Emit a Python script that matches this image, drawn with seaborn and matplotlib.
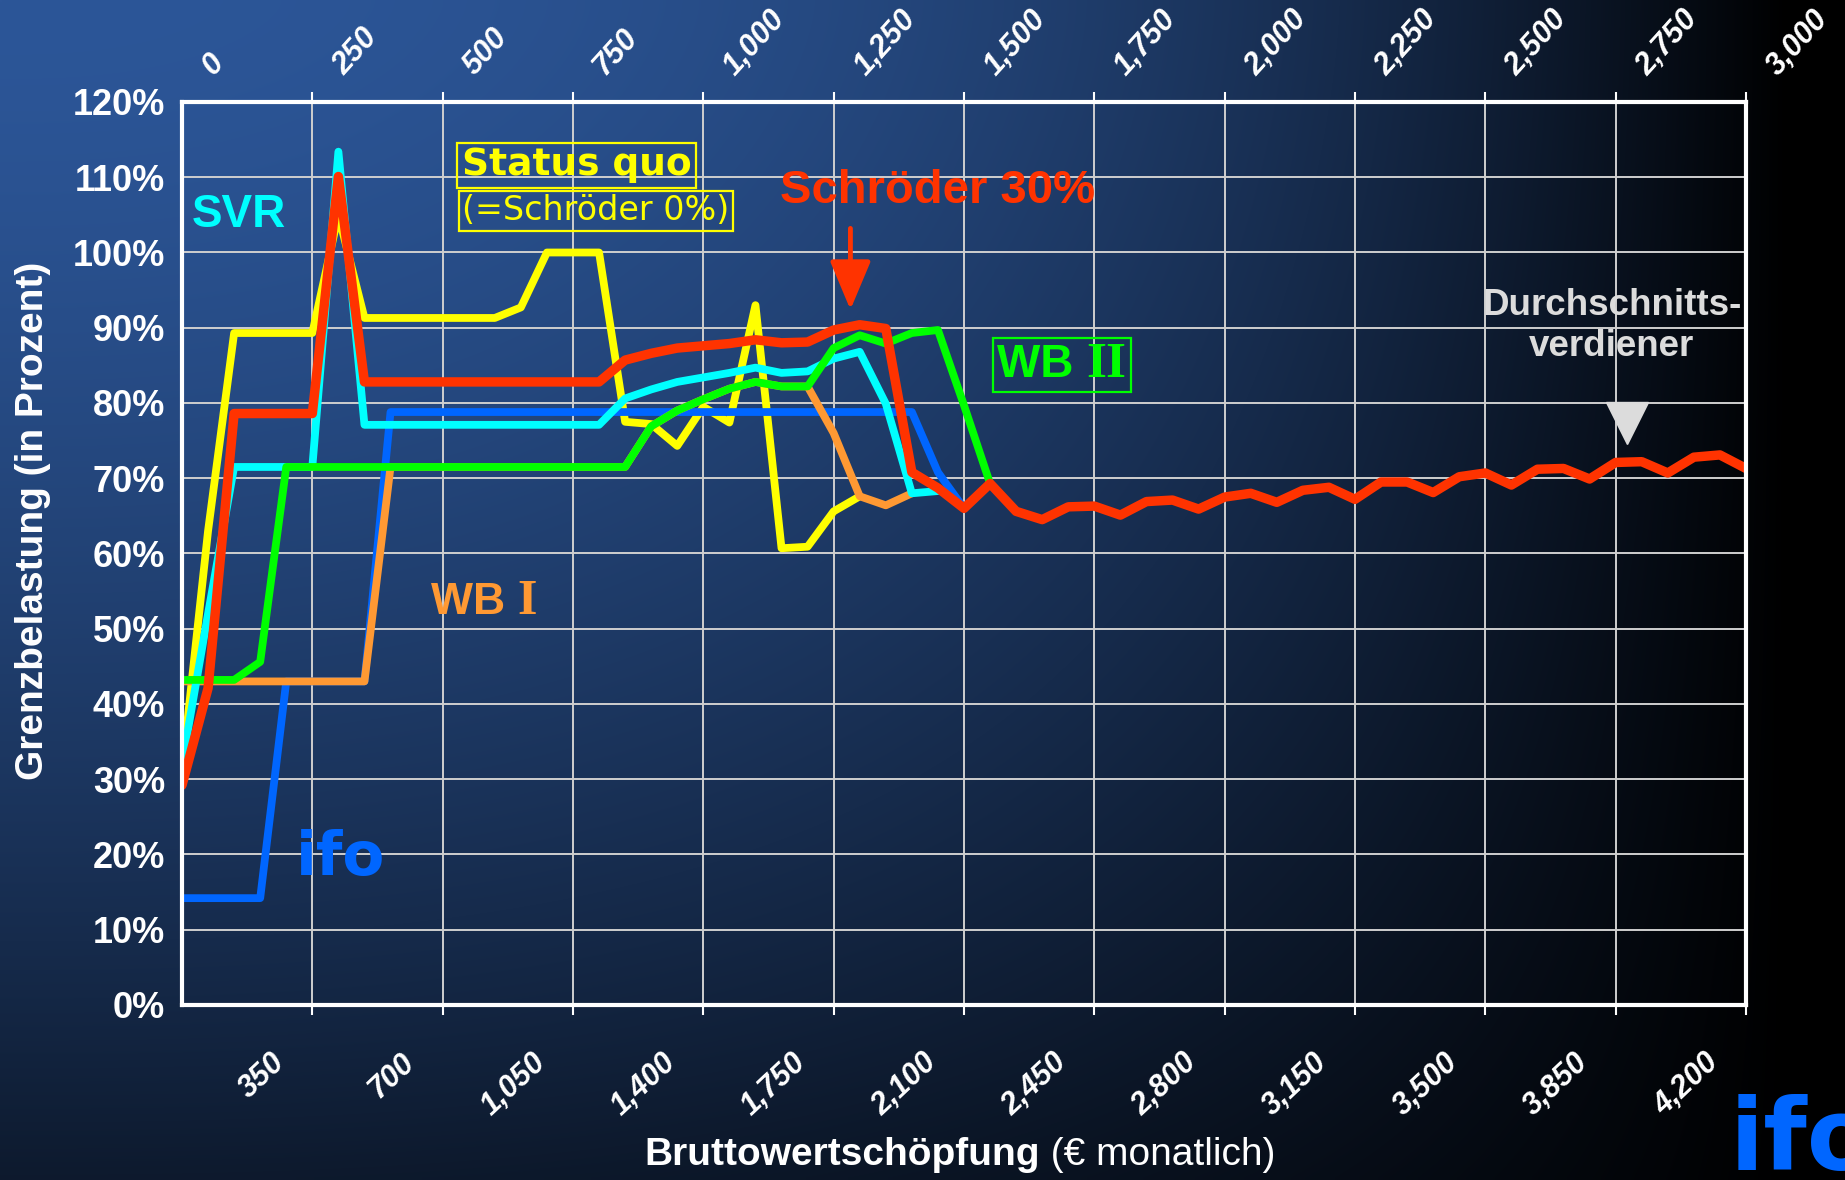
import numpy as np
import pandas as pd
import matplotlib
matplotlib.use("Agg")
import matplotlib.pyplot as plt
import seaborn as sns
from matplotlib.offsetbox import TextArea, HPacker, AnnotationBbox
from matplotlib.transforms import ScaledTranslation, blended_transform_factory

# --- data: Grenzbelastung (%) at gross income steps of 70 EUR ---
step = 70

status_quo = [31, 63, 89.3, 89.3, 89.3, 89.3, 105, 91.3, 91.3, 91.3, 91.3,
              91.3, 91.3, 92.7, 100, 100, 100, 77.5, 77.2, 74.3, 79.5, 77.4,
              93.0, 60.7, 60.9, 65.6, 67.6]

ifo = [14.2, 14.2, 14.2, 14.2, 43, 43, 43, 43, 78.8, 78.8, 78.8, 78.8, 78.8,
       78.8, 78.8, 78.8, 78.8, 78.8, 78.8, 78.8, 78.8, 78.8, 78.8, 78.8,
       78.8, 78.8, 78.8, 78.8, 78.8, 70.8, 66.0]

wb1 = [43, 43, 43, 43, 43, 43, 43, 43, 71.5, 71.5, 71.5, 71.5, 71.5, 71.5,
       71.5, 71.5, 71.5, 71.5, 76.9, 79.0, 80.5, 81.9, 82.8, 82.2, 82.2,
       76.0, 67.6, 66.4, 68.0]

svr = [32, 52, 71.5, 71.5, 71.5, 71.5, 113.4, 77.1, 77.1, 77.1, 77.1, 77.1,
       77.1, 77.1, 77.1, 77.1, 77.1, 80.6, 81.8, 82.8, 83.4, 84.0, 84.7,
       84.0, 84.2, 85.9, 86.8, 79.9, 68.0, 68.3]

# common tail from 2,240 EUR onwards (all schemes coincide)
tail = [65.6, 64.5, 66.2, 66.3, 65.1, 66.9, 67.1, 65.9, 67.5, 68.0, 66.8,
        68.4, 68.8, 67.2, 69.5, 69.5, 68.1, 70.2, 70.7, 69.1, 71.2, 71.3,
        69.9, 72.1, 72.2, 70.7, 72.8, 73.1, 71.3]

wb2 = [43.2, 43.2, 43.2, 45.6, 71.5, 71.5, 71.5, 71.5, 71.5, 71.5, 71.5,
       71.5, 71.5, 71.5, 71.5, 71.5, 71.5, 71.5, 76.9, 79.0, 80.5, 81.9,
       82.8, 82.2, 82.2, 87.3, 89.0, 87.9, 89.3, 89.7, 79.7, 69.3] + tail

schroeder30 = [29.2, 42.1, 78.6, 78.6, 78.6, 78.6, 110.1, 82.8, 82.8, 82.8,
               82.8, 82.8, 82.8, 82.8, 82.8, 82.8, 82.8, 85.7, 86.6, 87.3,
               87.6, 87.9, 88.4, 88.0, 88.1, 89.7, 90.4, 89.9, 70.8, 68.7,
               66.0, 69.3] + tail

series = {"Status quo": status_quo, "ifo": ifo, "WB I": wb1, "SVR": svr,
          "WB II": wb2, "Schröder 30%": schroeder30}
palette = {"Status quo": "#FFFF00", "ifo": "#0066FF", "WB I": "#FF9933",
           "SVR": "#00FFFF", "WB II": "#00FF00", "Schröder 30%": "#FF3300"}

bottom_ticks = np.arange(350, 4201, 350)
top_ticks = np.arange(0, 3001, 250)      # second scale, 250 <-> 350
y_ticks = np.arange(0, 121, 10)
avg_earner_x, avg_earner_y = 3880, 77.4
arrow_x = 1795

rows = []
for name, vals in series.items():
    for i, v in enumerate(vals):
        rows.append({"x": i * step, "value": v, "scheme": name})
df = pd.DataFrame(rows)

# --- style ---
sns.set_style("dark")
plt.rcParams['font.family'] = ['Liberation Sans', 'DejaVu Sans']

fig = plt.figure(figsize=(18.45, 11.8), dpi=100)

# gradient background (blue top-left -> black right/bottom)
H, W = 236, 369
yy, xx = np.mgrid[0:H, 0:W]
xf = xx / (W - 1)
yf = yy / (H - 1)
hx = np.clip(1 - (xf / 0.97) ** 2.4, 0, 1)
vy = 1 - 0.7 * yf ** 1.5
base = np.array([44, 86, 152]) / 255.0
img = base[None, None, :] * (hx * vy)[:, :, None]
bg = fig.add_axes([0, 0, 1, 1], zorder=-1)
bg.imshow(img, extent=[0, 1, 0, 1], aspect="auto", interpolation="bilinear")
bg.axis("off")

ax = fig.add_axes([0.09864, 0.14831, 0.84770, 0.76525])
ax.set_facecolor("none")

sns.lineplot(data=df, x="x", y="value", hue="scheme",
             hue_order=list(series.keys()), palette=palette, linewidth=5.6,
             estimator=None, sort=False, legend=False, ax=ax)
for line in ax.lines:
    line.set_solid_joinstyle("round")
    line.set_solid_capstyle("round")
ax.lines[-1].set_linewidth(6.8)   # Schröder 30% on top, a bit heavier

ax.set_xlim(0, 4200)
ax.set_ylim(0, 120)
ax.set_xlabel("")
ax.set_ylabel("")
ax.grid(True, color="#CFCFCF", lw=1.4)
for sp in ax.spines.values():
    sp.set_visible(True)
    sp.set_color("white")
    sp.set_linewidth(3)

ax.set_xticks(bottom_ticks)
ax.tick_params(axis="x", direction="out", length=7, width=1.5, color="white",
               top=True, bottom=True, labelbottom=False, labeltop=False)
ax.set_yticks(y_ticks)
ax.set_yticklabels([f"{v}%" for v in y_ticks])
ax.tick_params(axis="y", length=0, pad=12, labelsize=26, labelcolor="white")
for lab in ax.get_yticklabels():
    lab.set_fontweight("bold")

# rotated axis labels (bottom: EUR brutto, top: second scale)
trans = blended_transform_factory(ax.transData, ax.transAxes)
for v in bottom_ticks:
    ax.text(v, 0, f"{v:,}", color="white", fontsize=22, fontweight="bold",
            style="italic", rotation=43, rotation_mode="anchor",
            ha="right", va="top",
            transform=trans + ScaledTranslation(-0.42, -0.42, fig.dpi_scale_trans))
for v in top_ticks:
    ax.text(v * 350 / 250, 1, f"{v:,}", color="white", fontsize=22,
            fontweight="bold", style="italic", rotation=48,
            rotation_mode="anchor", ha="left", va="bottom",
            transform=trans + ScaledTranslation(0.37, 0.21, fig.dpi_scale_trans))

fig.text(0.0179, 0.5585, "Grenzbelastung (in Prozent)", rotation=90,
         color="white", fontsize=28, fontweight="bold", ha="center", va="center")

xlab = HPacker(children=[
    TextArea("Bruttowertschöpfung", textprops=dict(color="white", fontsize=28, fontweight="bold")),
    TextArea(" (€ monatlich)", textprops=dict(color="white", fontsize=28))],
    align="baseline", pad=0, sep=0)
fig.add_artist(AnnotationBbox(xlab, (0.5203, 0.0212), xycoords="figure fraction",
                              frameon=False, box_alignment=(0.5, 0.5)))

# --- annotations ---
ax.text(0.0364, 0.8749, "SVR", transform=ax.transAxes, color="#00FFFF",
        fontsize=33, fontweight="bold", ha="center", va="center")
ax.text(0.1017, 0.1620, "ifo", transform=ax.transAxes, color="#0066FF",
        fontsize=44, fontweight="bold", family="DejaVu Sans",
        ha="center", va="center")
ax.text(0.4834, 0.9014, "Schröder 30%", transform=ax.transAxes,
        color="#FF3300", fontsize=34, fontweight="bold", ha="center", va="center")
ax.annotate("", xy=(arrow_x, 92.4), xytext=(arrow_x, 103.2),
            arrowprops=dict(arrowstyle="-|>,head_length=1.0,head_width=0.42",
                            mutation_scale=30, color="#FF3300", lw=3.5,
                            shrinkA=0, shrinkB=0))

ax.text(0.1790, 0.9300, "Status quo", transform=ax.transAxes, color="#FFFF00",
        fontsize=27, fontweight="bold", family="DejaVu Sans",
        ha="left", va="center",
        bbox=dict(boxstyle="square,pad=0.12", fc="none", ec="#FFFF00", lw=1.6))
ax.text(0.1790, 0.8795, "(=Schröder 0%)", transform=ax.transAxes,
        color="#FFFF00", fontsize=24, family="DejaVu Sans",
        ha="left", va="center",
        bbox=dict(boxstyle="square,pad=0.1", fc="none", ec="#FFFF00", lw=1.6))

wb1_box = HPacker(children=[
    TextArea("WB ", textprops=dict(color="#FF9933", fontsize=32, fontweight="bold")),
    TextArea("I", textprops=dict(color="#FF9933", fontsize=36, fontweight="bold",
                                 family="Liberation Serif"))],
    align="baseline", pad=0, sep=0)
ax.add_artist(AnnotationBbox(wb1_box, (0.1931, 0.4463), xycoords="axes fraction",
                             frameon=False, box_alignment=(0.5, 0.5)))

wb2_box = HPacker(children=[
    TextArea("WB ", textprops=dict(color="#00FF00", fontsize=33, fontweight="bold")),
    TextArea("II", textprops=dict(color="#00FF00", fontsize=37, fontweight="bold",
                                  family="Liberation Serif"))],
    align="baseline", pad=0, sep=0)
ax.add_artist(AnnotationBbox(wb2_box, (0.5627, 0.7087), xycoords="axes fraction",
                             frameon=True, box_alignment=(0.5, 0.5), pad=0.12,
                             bboxprops=dict(fc="none", ec="#00FF00", lw=1.6,
                                            boxstyle="square")))

ax.text(0.9143, 0.752, "Durchschnitts-\nverdiener", transform=ax.transAxes,
        color="#DCDCDC", fontsize=26.5, fontweight="bold", ha="center",
        va="center", linespacing=1.2)
ax.plot([avg_earner_x], [avg_earner_y], marker="v", ms=30, color="#DCDCDC",
        linestyle="none", clip_on=False)

# ifo logo, cut at the lower right corner (as in the original slide)
fig.text(0.9377, 0.0725, "ifo", color="#0066FF", fontsize=72,
         fontweight="bold", family="DejaVu Sans", ha="left", va="top")

fig.savefig("out.png", dpi=100)
